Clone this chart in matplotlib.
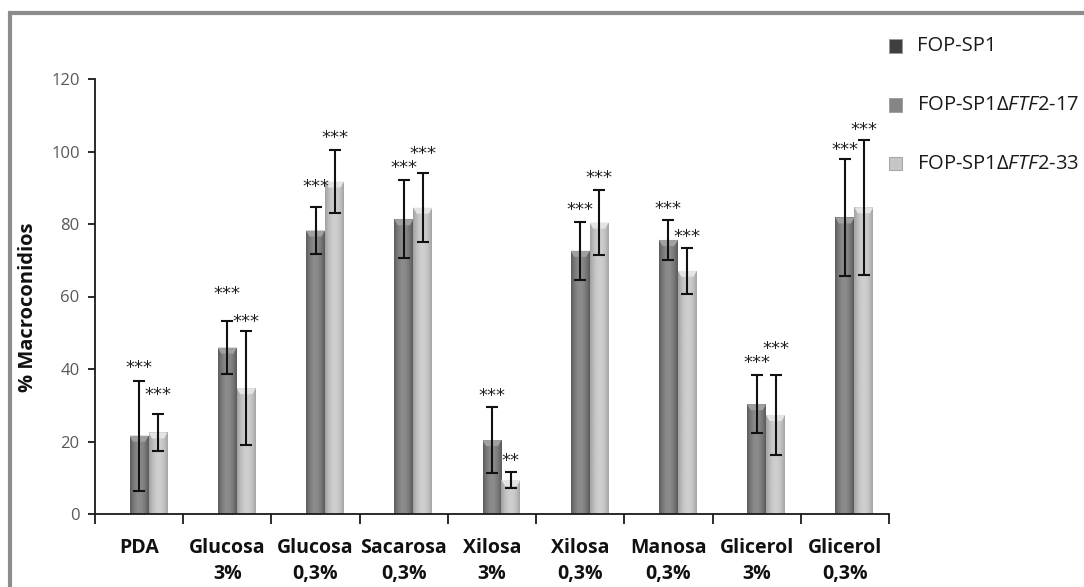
import numpy as np
import matplotlib
matplotlib.use("Agg")
import matplotlib.pyplot as plt
from matplotlib.patches import Rectangle, Polygon
from matplotlib.colors import LinearSegmentedColormap

plt.rcParams["font.family"] = ["Open Sans", "DejaVu Sans"]
plt.rcParams["mathtext.fontset"] = "custom"
plt.rcParams["mathtext.rm"] = "Open Sans"
plt.rcParams["mathtext.it"] = "Open Sans:italic"

# ---- data ----
categories = ["PDA", "Glucosa\n3%", "Glucosa\n0,3%", "Sacarosa\n0,3%", "Xilosa\n3%",
              "Xilosa\n0,3%", "Manosa\n0,3%", "Glicerol\n3%", "Glicerol\n0,3%"]
series_names = ["FOP-SP1", "FOP-SP1\u0394$\\mathit{FTF2}$-17", "FOP-SP1\u0394$\\mathit{FTF2}$-33"]

ftf2_17 = [21.6, 45.9, 78.2, 81.3, 20.4, 72.6, 75.6, 30.3, 81.8]
ftf2_17_err = [15.2, 7.3, 6.4, 10.8, 9.2, 8.0, 5.4, 8.0, 16.1]
ftf2_33 = [22.5, 34.7, 91.7, 84.5, 9.4, 80.4, 67.1, 27.3, 84.6]
ftf2_33_err = [5.0, 15.7, 8.8, 9.6, 2.2, 8.9, 6.4, 11.0, 18.7]

sig_17 = ["***"] * 9
sig_33 = ["***", "***", "***", "***", "**", "***", "***", "***", "***"]
sig_17_y = [40.4, 60.6, 90.1, 95.5, 32.6, 83.9, 84.1, 41.6, 100.4]
sig_33_y = [32.8, 52.9, 103.6, 99.3, 14.7, 92.8, 76.5, 45.4, 105.9]

yticks = [0, 20, 40, 60, 80, 100, 120]

# ---- figure ----
W, H = 1084, 587
fig = plt.figure(figsize=(W / 100, H / 100), dpi=100)
fig.patch.set_facecolor("white")

ax = fig.add_axes([95 / W, (H - 514) / H, (889 - 95) / W, (514 - 79) / H])

n = len(categories)
centers = np.arange(n) + 0.5
bw = 0.215

series_colors = ["#3f3f3f", "#858585", "#c6c6c6"]
cm_dark = LinearSegmentedColormap.from_list(
    "dk", ["#5e5e5e", "#7a7a7a", "#8c8c8c", "#8a8a8a", "#787878", "#5a5a5a"])
cm_light = LinearSegmentedColormap.from_list(
    "lt", ["#a2a2a2", "#bdbdbd", "#cecece", "#cecece", "#c2c2c2", "#a4a4a4"])
grad = np.linspace(0, 1, 64).reshape(1, -1)

def draw_bars(xpos, vals, cmap, top_col):
    bars = ax.bar(xpos, vals, width=bw, color="none", edgecolor="none", zorder=2)
    px = 120.0 / (514 - 79)  # data units per pixel vertically
    for b, v in zip(bars, vals):
        x0 = b.get_x()
        x1 = x0 + b.get_width()
        im = ax.imshow(grad, extent=[x0, x1, 0, v], aspect="auto", cmap=cmap,
                       origin="lower", zorder=2, interpolation="bilinear")
        im.set_clip_path(b)
        d = 6 * px
        inset = b.get_width() * 0.18
        ax.add_patch(Polygon([(x0, v), (x1, v), (x1 - inset, v - d), (x0 + inset, v - d)],
                             closed=True, facecolor=top_col, edgecolor="none", zorder=2.5))
    return bars

draw_bars(centers, ftf2_17, cm_dark, "#a0a0a0")
draw_bars(centers + bw, ftf2_33, cm_light, "#e4e4e4")

ax.errorbar(centers, ftf2_17, yerr=ftf2_17_err, fmt="none", ecolor="#111111",
            elinewidth=1.5, capsize=4, capthick=1.5, zorder=4)
ax.errorbar(centers + bw, ftf2_33, yerr=ftf2_33_err, fmt="none", ecolor="#111111",
            elinewidth=1.5, capsize=4, capthick=1.5, zorder=4)

for x, s, y in zip(centers, sig_17, sig_17_y):
    ax.text(x, y, s, ha="center", va="center", fontsize=13,
            family="DejaVu Sans", color="#222222", zorder=5)
for x, s, y in zip(centers + bw, sig_33, sig_33_y):
    ax.text(x, y, s, ha="center", va="center", fontsize=13,
            family="DejaVu Sans", color="#222222", zorder=5)

ax.set_xlim(0, n)
ax.set_ylim(0, 120)
ax.set_yticks(yticks)
ax.set_yticklabels([str(t) for t in yticks], fontsize=12, color="#595959")
ax.set_xticks(np.arange(n + 1))
ax.set_xticklabels([])
ax.set_xticks(centers, minor=True)
ax.set_xticklabels(categories, minor=True, fontsize=14, fontweight="bold",
                   color="#111111", linespacing=1.45)
ax.tick_params(axis="x", which="major", direction="out", length=7, width=1.3, color="#1a1a1a")
ax.tick_params(axis="x", which="minor", length=0, pad=17)
ax.tick_params(axis="y", direction="out", length=5, width=1.3, color="#1a1a1a", pad=6)
for side in ["top", "right"]:
    ax.spines[side].set_visible(False)
for side in ["left", "bottom"]:
    ax.spines[side].set_color("#1a1a1a")
    ax.spines[side].set_linewidth(1.3)
ax.set_ylabel("% Macroconidios", fontsize=14.5, fontweight="bold", color="#111111")
ax.yaxis.set_label_coords((38 - 95) / (889 - 95), (514 - 307) / (514 - 79))

# legend entries
leg_y = [46, 105, 164]
for col, name, yy in zip(series_colors, series_names, leg_y):
    fig.patches.append(Rectangle((889 / W, 1 - (yy + 6.5) / H), 13 / W, 13 / H,
                                 transform=fig.transFigure, facecolor=col,
                                 edgecolor="#9a9a9a", linewidth=0.6))
    fig.text(917 / W, 1 - yy / H, name, fontsize=14.5, color="#1a1a1a",
             ha="left", va="center")

# outer chart frame
fig.patches.append(Rectangle((10 / W, -0.05), 1.2, 1.05 - 13 / H,
                             transform=fig.transFigure, fill=False,
                             edgecolor="#8c8c8c", linewidth=3))

fig.savefig("out.png", dpi=100)
